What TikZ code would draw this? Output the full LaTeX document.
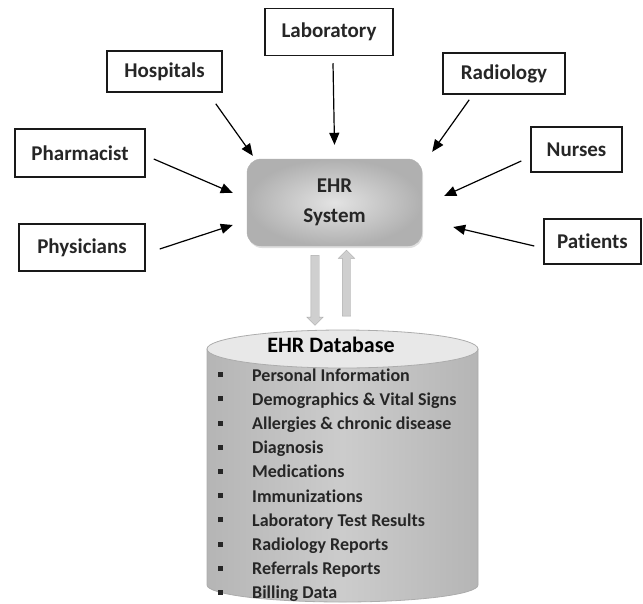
\documentclass[tikz,border=0pt]{standalone}
\usepackage{fontspec}
\setmainfont{Carlito}[Ligatures=NoCommon]
\usepackage{tikz}
\usetikzlibrary{shapes,shapes.arrows,shadows,positioning,calc}
\usetikzlibrary{arrows.meta}

\tikzset{
	source/.style={draw=black!90, line width=1.5pt, fill=white, inner sep=0pt,
		font=\fontsize{21}{24}\selectfont\bfseries, text=black!85},
	link/.style={line width=1.2pt, -{Triangle[length=12pt,width=10pt]}},
	flow/.style={single arrow, draw=gray!65, fill=gray!38, minimum width=16pt,
		single arrow head extend=4pt, inner xsep=0pt, inner ysep=4pt},
}

\begin{document}
\begin{tikzpicture}[x=1pt,y=-1pt]
	\useasboundingbox (0,0) rectangle (643,603);
	% sources
	\node[source, minimum width=128pt, minimum height=47pt] (lab) at (329,32) {Laboratory};
	\node[source, minimum width=115pt, minimum height=41pt] (hosp) at (164.5,71.5) {Hospitals};
	\node[source, minimum width=122pt, minimum height=41pt] (rad) at (504,73.5) {Radiology};
	\node[source, minimum width=130pt, minimum height=48pt] (pharm) at (80,153) {Pharmacist};
	\node[source, minimum width=91pt, minimum height=45pt] (nurse) at (576.5,149.5) {Nurses};
	\node[source, minimum width=126pt, minimum height=47pt] (phys) at (82,247.5) {Physicians};
	\node[source, minimum width=97pt, minimum height=45pt] (pat) at (592.5,241.5) {Patients};
	% system
	\node[rounded corners=14pt, draw=gray!60, inner color=gray!22, outer color=gray!62,
		minimum width=175pt, minimum height=87pt, align=center, text=black!85,
		font=\fontsize{21}{30}\selectfont\bfseries,
		drop shadow={opacity=0.25, shadow xshift=1pt, shadow yshift=-2pt}] (ehr) at (334.5,202.5) {EHR\\System};
	\path[link]
	([shift={(4,7)}]lab.south) edge ([shift={(0,-14)}]ehr.north)
	([shift={(-7,11)}]hosp.south east) edge ([shift={(6,-3)}]ehr.north west)
	([shift={(27,5)}]rad.south west) edge ([shift={(10,-7)}]ehr.north east)
	([shift={(8,6)}]pharm.east) edge ([shift={(-14,-9.5)}]ehr.west)
	([shift={(14,1.5)}]phys.east) edge ([shift={(-14,22.5)}]ehr.west)
	([shift={(-9,11.5)}]nurse.west) edge ([shift={(22,-6.5)}]ehr.east)
	([shift={(-9,4.5)}]pat.west) edge ([shift={(31,24.5)}]ehr.east);
	% to and from the database
	\node[flow, minimum height=70pt, rotate=-90] (down) at ([shift={(-19.5,42)}]ehr.south) {};
	\node[flow, minimum height=66pt, rotate=90] (up) at ([shift={(12,39)}]ehr.south) {};
	% database
	\coordinate (db) at (342.5,349);
	\path[draw=gray!65, line width=0.8pt, left color=gray!58, right color=gray!58, middle color=gray!40]
	(207,349) -- (207,585) arc[start angle=180, end angle=0, x radius=135.5, y radius=17]
	-- (478,349) -- cycle;
	\draw[gray!65, line width=0.8pt, fill=gray!18] (db) ellipse[x radius=135.5, y radius=19];
	\node[font=\fontsize{22}{24}\selectfont\bfseries, text=black] (dbname) at (331,345) {EHR Database};
	\node[anchor=north west, inner sep=0pt, font=\fontsize{18}{24.2}\selectfont\bfseries, text=black!85] (items) at (217.5,364)
	{\begin{tabular}{@{}l@{\hspace{29.5pt}}l@{}}
		\rule[4pt]{5pt}{5pt} & Personal Information\\
		\rule[4pt]{5pt}{5pt} & Demographics \& Vital Signs\\
		\rule[4pt]{5pt}{5pt} & Allergies \& chronic disease\\
		\rule[4pt]{5pt}{5pt} & Diagnosis\\
		\rule[4pt]{5pt}{5pt} & Medications\\
		\rule[4pt]{5pt}{5pt} & Immunizations\\
		\rule[4pt]{5pt}{5pt} & Laboratory Test Results\\
		\rule[4pt]{5pt}{5pt} & Radiology Reports\\
		\rule[4pt]{5pt}{5pt} & Referrals Reports\\
		\rule[4pt]{5pt}{5pt} & Billing Data
	\end{tabular}};
\end{tikzpicture}
\end{document}
